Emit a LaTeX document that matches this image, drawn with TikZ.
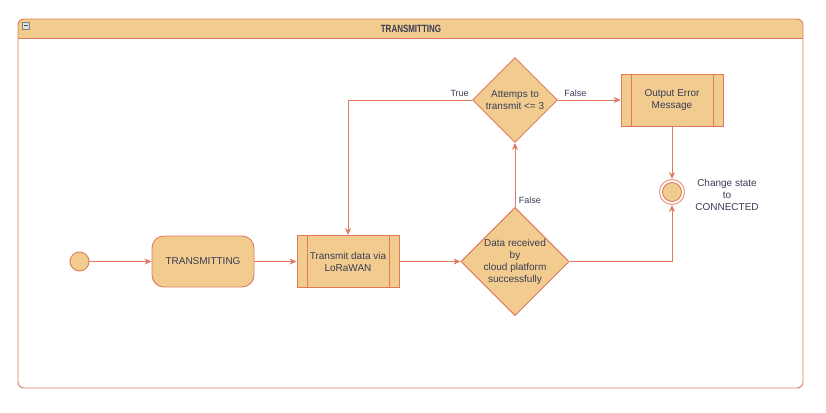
\documentclass[tikz,border=0pt]{standalone}
\usepackage{xcolor}
\usepackage{graphicx}
\usepackage{fontspec}
\setmainfont{Liberation Sans}
\usepackage{tikz}
\usetikzlibrary{shapes.geometric,arrows.meta}

\definecolor{stateFill}{HTML}{F2CC8F}
\definecolor{stateLine}{HTML}{E07A5F}
\definecolor{stateText}{HTML}{393C56}

\begin{document}
\begin{tikzpicture}[x=1pt, y=-1pt,
    every node/.style={text=stateText, font=\fontsize{10}{12}\selectfont, align=center, line width=0.9pt},
    activity/.style={draw=stateLine, fill=stateFill, rounded corners=12pt, minimum width=102pt, minimum height=51pt},
    process/.style={draw=stateLine, fill=stateFill, minimum width=102pt, minimum height=52pt,
        path picture={\draw[stateLine] ([xshift=10pt]path picture bounding box.north west) -- ([xshift=10pt]path picture bounding box.south west);
                      \draw[stateLine] ([xshift=-10pt]path picture bounding box.north east) -- ([xshift=-10pt]path picture bounding box.south east);}},
    decision/.style={diamond, aspect=1, draw=stateLine, fill=stateFill, inner sep=0pt},
    flow/.style={draw=stateLine, line width=0.9pt, -{Stealth[length=7pt,width=6pt]}},
    guard/.style={font=\fontsize{9}{11}\selectfont}]
    \useasboundingbox (0,0) rectangle (826,412);

    % swimlane frame
    \begin{scope}
        \clip[rounded corners=6pt] (18,19) rectangle (803,388);
        \fill[stateFill] (18,19) rectangle (803,38);
    \end{scope}
    \draw[stateLine, line width=0.9pt, rounded corners=6pt] (18,19) rectangle (803,388);
    \draw[stateLine, line width=0.9pt] (18,38) -- (803,38);
    \node[font=\fontsize{10.5}{12}\bfseries] (lane) at (411,28.5) {\scalebox{0.76}[1]{TRANSMITTING}};
    \draw[gray, fill=gray!25, line width=0.8pt] (22,22) rectangle (29,29);
    \draw[gray!60!black, line width=1pt] (23.5,25.5) -- (27.5,25.5);

    \node[circle, draw=stateLine, fill=stateFill, minimum size=19pt, inner sep=0pt] (start) at (79.5,261.5) {};
    \node[activity] (trans) at (203,261.5) {TRANSMITTING};
    \node[process] (send) at (348,261.5) {Transmit data via\\LoRaWAN};
    \node[decision, minimum width=106pt, minimum height=108pt] (recv) at (515,261.5) {Data received\\by\\cloud platform\\successfully};
    \node[decision, minimum width=85pt, minimum height=85pt] (retry) at (515,100) {Attemps to\\transmit <= 3};
    \node[process] (error) at (672,100) {Output Error\\Message};
    \node[circle, draw=stateLine!75, fill=white, minimum size=25pt, inner sep=0pt, line width=1pt,
        path picture={\draw[stateLine, fill=stateFill, line width=0.9pt] (path picture bounding box.center) circle (9.5pt);}] (done) at (672,192) {};
    \node (doneText) at (727,194.5) {Change state\\to\\CONNECTED};

    \draw[flow] (start) -- (trans);
    \draw[flow] (trans) -- (send);
    \draw[flow] (send) -- (recv);
    \draw[flow] (recv) -- node[guard, pos=0.1, right] {False} (retry);
    \draw[flow] (retry) -- node[guard, pos=0.28, above] {False} (error);
    \draw[flow] (retry.west) -| node[guard, pos=0.05, above] {True} (send.north);
    \draw[flow] (error) -- (done);
    \draw[flow] (recv.east) -| (done.south);
\end{tikzpicture}
\end{document}
